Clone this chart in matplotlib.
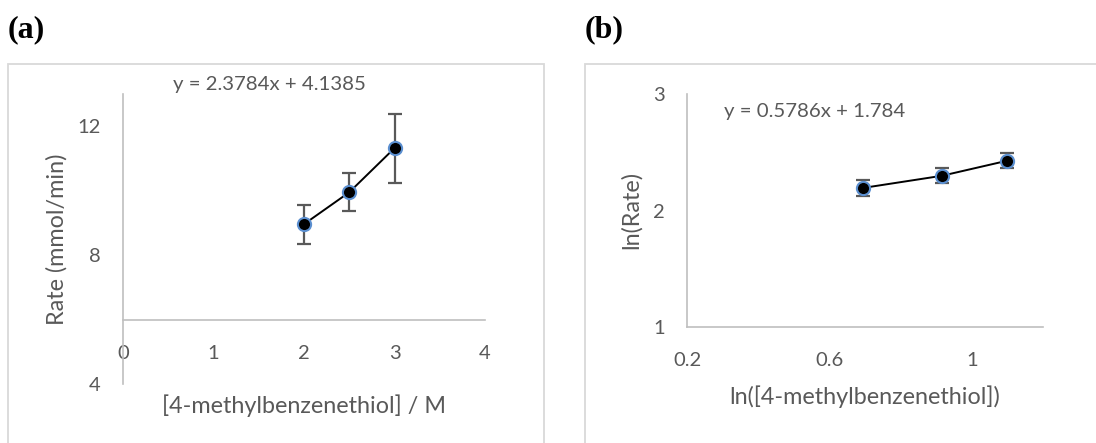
import matplotlib
matplotlib.use("Agg")
import matplotlib.pyplot as plt
from matplotlib.patches import Rectangle

# Rate vs. concentration data
conc = [2.0, 2.5, 3.0]
rate = [8.96, 9.95, 11.32]
rate_err = [0.60, 0.59, 1.07]

# Log-log data
ln_conc = [0.693, 0.916, 1.099]
ln_rate = [2.193, 2.298, 2.427]
ln_rate_err = [0.065, 0.065, 0.065]

eq_a = "y = 2.3784x + 4.1385"
eq_b = "y = 0.5786x + 1.784"

W, H = 1096, 443
DPI = 100
TXT = "#595959"
AX = "#BFBFBF"
FRAME = "#D9D9D9"
FONT = "Lato"
TICK_FS = 14.5
LABEL_FS = 16.8
EQ_FS = 14.7

fig = plt.figure(figsize=(W / DPI, H / DPI), dpi=DPI)


def px_axes(x0, y0, x1, y1):
    """Axes from pixel box (top-left origin)."""
    return fig.add_axes([x0 / W, 1 - y1 / H, (x1 - x0) / W, (y1 - y0) / H])


def ftext(x, y, s, **kw):
    fig.text(x / W, 1 - y / H, s, **kw)


# chart frames
for (x0, y0, x1, y1) in [(8, 64, 544, 460), (585, 64, 1110, 460)]:
    fig.patches.append(Rectangle((x0 / W, 1 - y1 / H), (x1 - x0) / W, (y1 - y0) / H,
                                 transform=fig.transFigure, fill=False,
                                 edgecolor=FRAME, linewidth=1.3, zorder=0))


def style(ax, xpad, ypad):
    for s in ["top", "right"]:
        ax.spines[s].set_visible(False)
    for s in ["left", "bottom"]:
        ax.spines[s].set_color(AX)
        ax.spines[s].set_linewidth(1.2)
    ax.tick_params(length=0, labelsize=TICK_FS, labelcolor=TXT)
    ax.tick_params(axis="x", pad=xpad)
    ax.tick_params(axis="y", pad=ypad)
    for lab in ax.get_xticklabels() + ax.get_yticklabels():
        lab.set_fontfamily(FONT)
    ax.patch.set_alpha(0)


def series(ax, x, y, err):
    ax.errorbar(x, y, yerr=err, fmt="none", ecolor="#595959", elinewidth=1.6,
                capsize=5, capthick=1.6, zorder=2)
    ax.plot(x, y, color="black", linewidth=1.4, marker="o", markersize=9.5,
            markerfacecolor="black", markeredgecolor="#5B8FD0",
            markeredgewidth=1.5, zorder=3, clip_on=False)


# (a) Rate vs. concentration
axa = px_axes(123, 94, 485, 384)
axa.set_xlim(0, 4)
axa.set_ylim(4, 13)
axa.set_xticks([0, 1, 2, 3, 4])
axa.set_yticks([4, 8, 12])
axa.spines["bottom"].set_position(("data", 6))
series(axa, conc, rate, rate_err)
style(axa, 18, 16)

ftext(269, 84, eq_a, ha="center", va="center", fontsize=EQ_FS, color=TXT, family=FONT)
ftext(57, 239, "Rate (mmol/min)", ha="center", va="center", rotation=90,
      fontsize=LABEL_FS, color=TXT, family=FONT)
ftext(304, 406, "[4-methylbenzenethiol] / M", ha="center", va="center",
      fontsize=LABEL_FS, color=TXT, family=FONT)
ftext(8, 30, "(a)", ha="left", va="center", fontsize=23, fontweight="bold",
      family="Liberation Serif", color="black")

# (b) log-log plot
axb = px_axes(687, 94, 1043, 327)
axb.set_xlim(0.2, 1.2)
axb.set_ylim(1, 3)
axb.set_xticks([0.2, 0.6, 1.0])
axb.set_xticklabels(["0.2", "0.6", "1"])
axb.set_yticks([1, 2, 3])
series(axb, ln_conc, ln_rate, ln_rate_err)
style(axb, 18, 16)

ftext(815, 112, eq_b, ha="center", va="center", fontsize=EQ_FS, color=TXT, family=FONT)
ftext(631, 210, "ln(Rate)", ha="center", va="center", rotation=90,
      fontsize=LABEL_FS, color=TXT, family=FONT)
ftext(865, 397, "ln([4-methylbenzenethiol])", ha="center", va="center",
      fontsize=LABEL_FS, color=TXT, family=FONT)
ftext(585, 30, "(b)", ha="left", va="center", fontsize=23, fontweight="bold",
      family="Liberation Serif", color="black")

fig.savefig("out.png", dpi=DPI)
